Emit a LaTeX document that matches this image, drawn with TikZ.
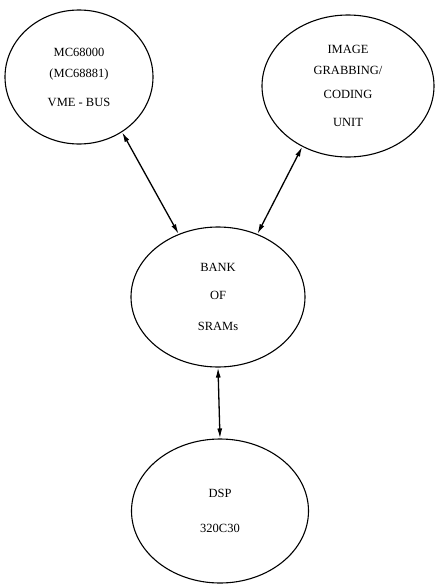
\documentclass[tikz,border=0pt]{standalone}
\usepackage{fontspec}
\setmainfont{Liberation Serif}
\usepackage{tikz}
\usetikzlibrary{shapes.geometric,arrows.meta}

\begin{document}
\begin{tikzpicture}[x=1pt,y=-1pt,
  unit/.style={draw,ellipse,line width=1.1pt,inner sep=0pt,align=center,
    font=\fontsize{12.5}{14.5}\selectfont},
  link/.style={{Latex[length=10pt,width=5pt]}-{Latex[length=10pt,width=5pt]},line width=1.3pt}]
\useasboundingbox (0,0) rectangle (437,584);
\node[unit,minimum width=148pt,minimum height=134pt] (cpu) at (79,77)
  {MC68000\\[7pt](MC68881)\\[14pt]VME - BUS};
\node[unit,minimum width=172pt,minimum height=142pt] (grab) at (348,86)
  {IMAGE\\[6pt]GRABBING/\\[10pt]CODING\\[13pt]UNIT};
\node[unit,minimum width=174pt,minimum height=140pt] (bank) at (218,297)
  {BANK\\[13pt]OF\\[17pt]SRAMs};
\node[unit,minimum width=177pt,minimum height=144pt] (dsp) at (220,511)
  {DSP\\[20pt]320C30};
\draw[link] (cpu.-52) -- (bank.122);
\draw[link] (grab.-127) -- (bank.58);
\draw[link] (bank.south) -- (dsp.north);
\end{tikzpicture}
\end{document}
